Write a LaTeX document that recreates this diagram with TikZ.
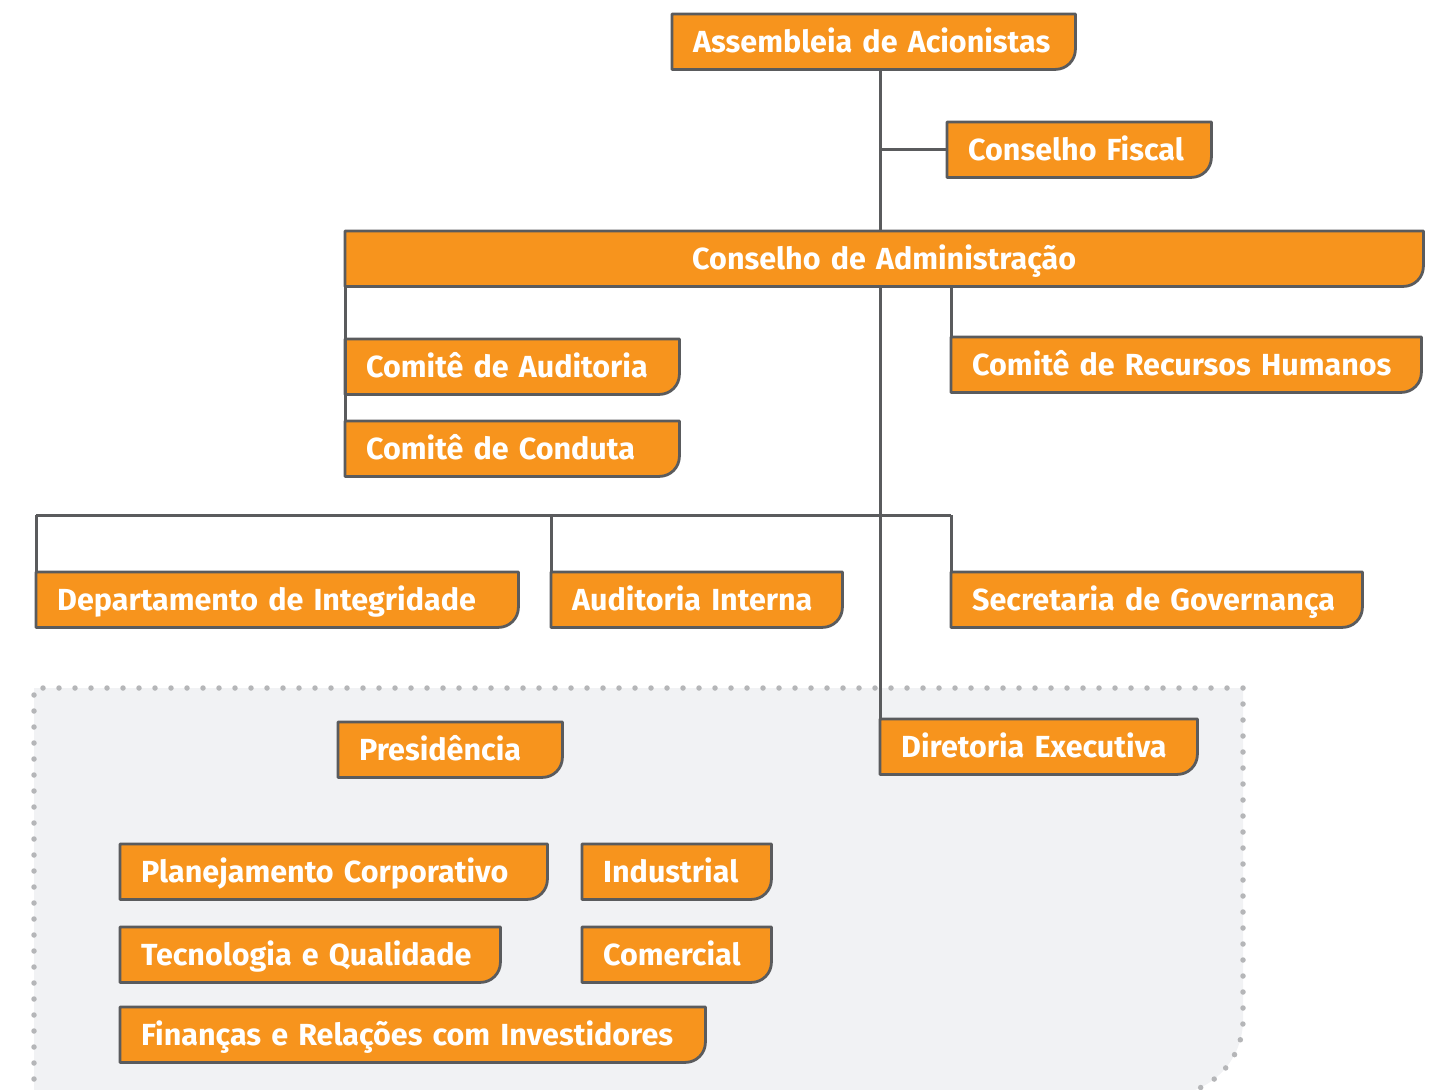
\documentclass[tikz,border=0pt]{standalone}
\usepackage{fontspec}
\setmainfont{Fira Sans}
\usetikzlibrary{backgrounds}
\definecolor{laranja}{HTML}{F7941D}
\definecolor{cinzaBorda}{HTML}{5A5B5D}
\definecolor{cinzaFundo}{HTML}{F1F2F4}
\definecolor{cinzaPonto}{HTML}{B5B6B8}
\tikzset{
  caixa/.style={anchor=north west, inner xsep=21pt, inner ysep=0pt, minimum height=55pt,
    text height=21.2pt, text depth=0pt, align=left, text=white,
    font=\fontsize{30.5}{37}\selectfont\bfseries},
  borda/.style={fill=laranja, draw=cinzaBorda, line width=2.8pt, line join=round},
  liga/.style={draw=cinzaBorda, line width=3pt},
  pontilhado/.style={draw=cinzaPonto, line width=5.5pt, line cap=round, dash pattern=on 0pt off 16pt}
}
\begin{document}
\begin{tikzpicture}[x=1pt, y=-1pt]
\useasboundingbox (0,0) rectangle (1436,1090);
% caixas do topo
\node[caixa, text width=361pt] (assembleia) at (672,14) {Assembleia de Acionistas};
\node[caixa, text width=222pt] (fiscal) at (947,122) {Conselho Fiscal};
\node[caixa, text width=1036pt, align=center] (admin) at (345,231) {Conselho de Administração};
% comitês
\node[caixa, text width=292pt] (cAud) at (345,339) {Comitê de Auditoria};
\node[caixa, text width=292pt] (cCond) at (345,421) {Comitê de Conduta};
\node[caixa, text width=428pt] (cRH) at (951,337) {Comitê de Recursos Humanos};
% nível dos departamentos
\node[caixa, text width=440pt] (integr) at (36,572) {Departamento de Integridade};
\node[caixa, text width=249pt] (audInt) at (551,572) {Auditoria Interna};
\node[caixa, text width=369pt] (secret) at (951,572) {Secretaria de Governança};
% diretoria
\node[caixa, text width=182pt] (presid) at (338,722) {Presidência};
\node[caixa, text width=275pt] (dirExec) at (880,719) {Diretoria Executiva};
\node[caixa, text width=385pt] (planej) at (120,844) {Planejamento Corporativo};
\node[caixa, text width=147pt] (indust) at (582,844) {Industrial};
\node[caixa, text width=338pt] (tecno) at (120,927) {Tecnologia e Qualidade};
\node[caixa, text width=147pt] (comerc) at (582,927) {Comercial};
\node[caixa, text width=543pt] (financ) at (120,1007) {Finanças e Relações com Investidores};
% fundo cinza e contorno das caixas
\begin{scope}[on background layer]
\fill[cinzaFundo] (34,688) -- (1243,688) -- (1243,1020) arc[start angle=0, end angle=-90, radius=75pt] -- (34,1095) -- cycle;
\draw[pontilhado] (34,1095) -- (34,688) -- (1243,688) -- (1243,1020) arc[start angle=0, end angle=-90, radius=75pt] -- (34,1095);
\foreach \n in {assembleia,fiscal,admin,cAud,cCond,cRH,integr,audInt,secret,presid,dirExec,planej,indust,tecno,comerc,financ}
  \draw[borda] (\n.north west) -- (\n.north east) -- ([yshift=20pt]\n.south east)
    arc[start angle=0, end angle=-90, radius=20pt] -- (\n.south west) -- cycle;
\end{scope}
% linhas de ligação
\coordinate (barra) at (0,515);
\draw[liga] (dirExec.north west |- assembleia.south) -- (dirExec.north west |- admin.north);
\draw[liga] (dirExec.north west |- fiscal.west) -- (fiscal.west);
\draw[liga] (dirExec.north west |- admin.south) -- (dirExec.north west);
\draw[liga] (cCond.north west |- admin.south) -- (cCond.north west);
\draw[liga] (cRH.north west |- admin.south) -- (cRH.north west);
\draw[liga] (integr.north west |- barra) -- (secret.north west |- barra);
\foreach \n in {integr,audInt,secret}
  \draw[liga] (\n.north west |- barra) -- (\n.north west);
\end{tikzpicture}
\end{document}
